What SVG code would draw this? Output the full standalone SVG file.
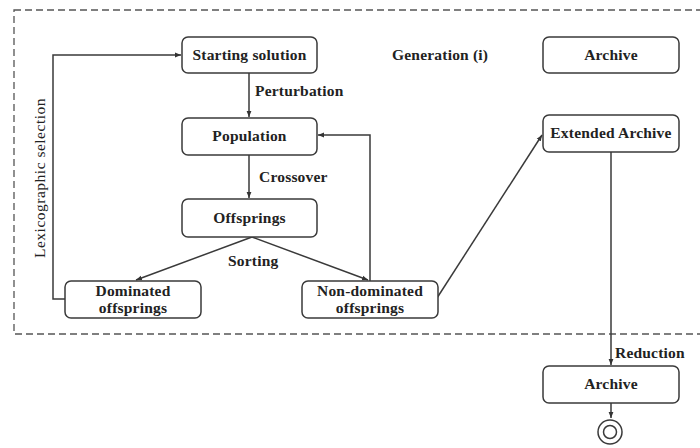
<svg xmlns="http://www.w3.org/2000/svg" width="700" height="448" viewBox="0 0 700 448">
<defs>
<marker id="arr" viewBox="0 0 10 10" refX="10" refY="5" markerWidth="6" markerHeight="6" orient="auto" markerUnits="userSpaceOnUse">
<path d="M0,1 L10,5 L0,9 Z" fill="#333"/>
</marker>
</defs>
<style>
.box{fill:#fff;stroke:#3a3a3a;stroke-width:1.5}
.t{font-family:"Liberation Serif","Times New Roman",serif;font-weight:bold;font-size:15.5px;letter-spacing:0.2px;fill:#222}
.n{font-weight:normal;font-size:15.5px;letter-spacing:0.5px}
.c{text-anchor:middle}
.ln{fill:none;stroke:#3a3a3a;stroke-width:1.5}
.dash{fill:none;stroke:#555;stroke-width:1.3;stroke-dasharray:7 4}
</style>
<rect x="14" y="10" width="700" height="324" class="dash"/>
<g id="connectors">
<path class="ln" d="M249,73 V117" marker-end="url(#arr)"/>
<path class="ln" d="M249,155 V198" marker-end="url(#arr)"/>
<path class="ln" d="M252,237 L136,280" marker-end="url(#arr)"/>
<path class="ln" d="M252,237 L368,280" marker-end="url(#arr)"/>
<path class="ln" d="M370,281 V135 H318" marker-end="url(#arr)"/>
<path class="ln" d="M65,299 H53 V55 H181" marker-end="url(#arr)"/>
<path class="ln" d="M437,298 L542,135" marker-end="url(#arr)"/>
<path class="ln" d="M611,152 V365" marker-end="url(#arr)"/>
<path class="ln" d="M611,403 V418" marker-end="url(#arr)"/>
<text class="t" x="255" y="96">Perturbation</text>
<text class="t" x="259" y="182">Crossover</text>
<text class="t" x="228" y="266">Sorting</text>
<text class="t" x="615" y="358">Reduction</text>
<text class="t n c" transform="translate(45,178) rotate(-90)">Lexicographic selection</text>
</g>
<g id="generation"><text class="t" x="392" y="60">Generation (i)</text></g>
<g id="starting"><rect class="box" x="182" y="37" width="135" height="36" rx="6"/><text class="t c" x="249.5" y="60">Starting solution</text></g>
<g id="population"><rect class="box" x="182" y="118" width="135" height="37" rx="6"/><text class="t c" x="249.5" y="141">Population</text></g>
<g id="offsprings"><rect class="box" x="182" y="199" width="135" height="38" rx="6"/><text class="t c" x="249.5" y="223">Offsprings</text></g>
<g id="dominated"><rect class="box" x="65" y="281" width="136" height="37" rx="6"/><text class="t c" x="133" y="296">Dominated</text><text class="t c" x="133" y="313">offsprings</text></g>
<g id="nondominated"><rect class="box" x="302" y="281" width="136" height="37" rx="6"/><text class="t c" x="370" y="296">Non-dominated</text><text class="t c" x="370" y="313">offsprings</text></g>
<g id="archive1"><rect class="box" x="543" y="37" width="136" height="36" rx="6"/><text class="t c" x="611" y="60">Archive</text></g>
<g id="extarchive"><rect class="box" x="543" y="115" width="136" height="37" rx="6"/><text class="t c" x="611" y="138">Extended Archive</text></g>
<g id="archive2"><rect class="box" x="543" y="366" width="136" height="37" rx="6"/><text class="t c" x="611" y="389">Archive</text></g>
<g id="final"><circle cx="610" cy="432" r="12" fill="#fff" stroke="#3a3a3a" stroke-width="1.5"/><circle cx="610" cy="432" r="6.5" fill="#fff" stroke="#3a3a3a" stroke-width="1.5"/></g>
</svg>
